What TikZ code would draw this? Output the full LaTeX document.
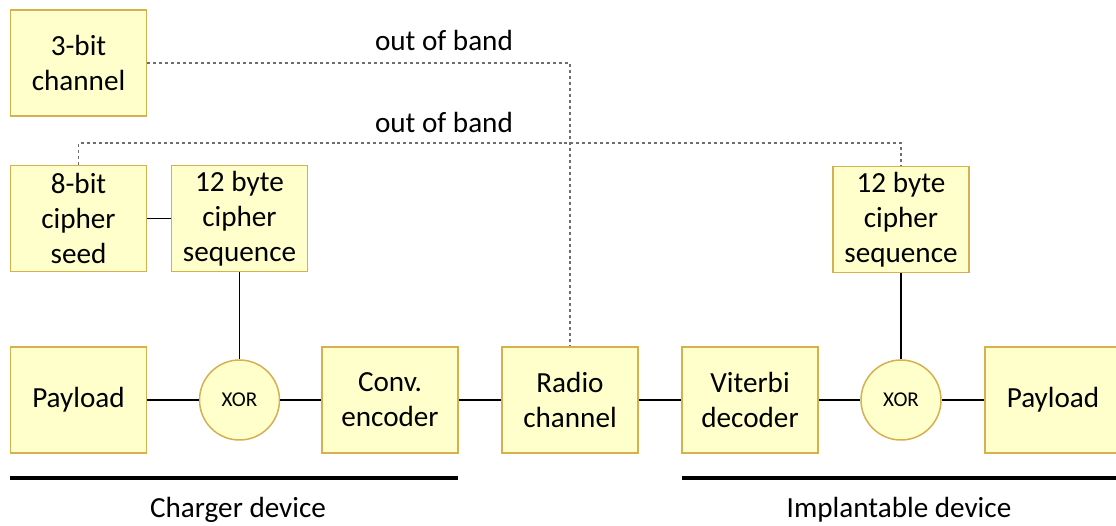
\documentclass[tikz,border=0pt]{standalone}
\usepackage{fontspec}
\setmainfont{Carlito}
\usepackage{tikz}
\usetikzlibrary{positioning,calc}

\definecolor{boxfill}{HTML}{FFFFCC}
\definecolor{boxline}{HTML}{D6B04E}
\definecolor{oobgray}{HTML}{6E6E6E}

\begin{document}
\begin{tikzpicture}[
  x=0.02cm,y=-0.02cm,
  blk/.style={draw=boxline, fill=boxfill, line width=0.85pt, align=center, minimum width=2.72cm, minimum height=2.12cm, inner sep=0pt, font=\fontsize{16.6}{20}\selectfont},
  xorop/.style={draw=boxline, fill=boxfill, line width=0.85pt, circle, minimum size=1.6cm, inner sep=0pt, font=\fontsize{12}{14}\selectfont},
  wire/.style={line width=1pt},
  oob/.style={draw=oobgray, line width=0.6pt, dash pattern=on 1.7pt off 1.7pt},
  bar/.style={line width=2.3pt},
  lbl/.style={font=\fontsize{16.6}{20}\selectfont}
]
\useasboundingbox (0,0) rectangle (1116,525);

\node[blk] (chan3) at (78.5,63) {3-bit\\channel};
\node[blk] (seed) at (78.5,218.5) {8-bit\\cipher\\seed};
\node[blk] (seqL) at (239.5,218.5) {12 byte\\cipher\\sequence};
\node[blk] (seqR) at (901,219.5) {12 byte\\cipher\\sequence};

\node[blk] (payL) at (78.5,400) {Payload};
\node[xorop] (xorL) at (239.5,400) {XOR};
\node[blk] (enc) at (390,400) {Conv.\\encoder};
\node[blk] (radio) at (570,400) {Radio\\channel};
\node[blk] (vit) at (750,400) {Viterbi\\decoder};
\node[xorop] (xorR) at (901,400) {XOR};
\node[blk] (payR) at (1053,400) {Payload};

\node[lbl] (oob1) at (444,40) {out of band};
\node[lbl] (oob2) at (444,122) {out of band};
\coordinate (obline) at (0,143);

\draw[wire] (seed) -- (seqL);
\draw[wire] (seqL) -- (xorL);
\draw[wire] (seqR) -- (xorR);
\draw[wire] (payL) -- (xorL);
\draw[wire] (xorL) -- (enc);
\draw[wire] (enc) -- (radio);
\draw[wire] (radio) -- (vit);
\draw[wire] (vit) -- (xorR);
\draw[wire] (xorR) -- (payR);

\draw[oob] (chan3.east) -| (radio.north);
\draw[oob] (seed.north) -- (seed.north |- obline) -| (seqR.north);

% device groups
\coordinate (chgA) at (10,478);
\coordinate (chgB) at (458,478);
\coordinate (impA) at (682,478);
\coordinate (impB) at (1120,478);
\draw[bar] (chgA) -- (chgB);
\draw[bar] (impA) -- (impB);
\node[lbl] (chg) at (238,510) {Charger device};
\node[lbl] (imp) at (899,510) {Implantable device};
\end{tikzpicture}
\end{document}
